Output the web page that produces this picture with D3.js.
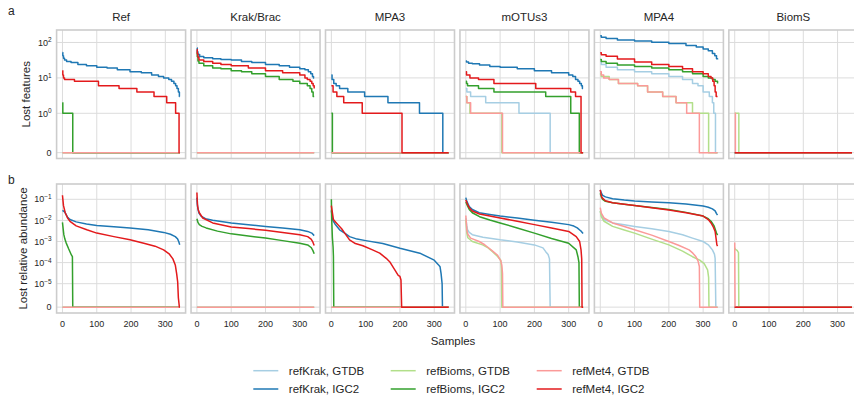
<!DOCTYPE html>
<html>
<head>
<meta charset="utf-8">
<script src="https://cdn.jsdelivr.net/npm/d3@7"></script>
<style>
  body { margin: 0; background: #fff; }
  svg { display: block; }
  text { font-family: "Liberation Sans", Arial, sans-serif; fill: #262626; }
</style>
</head>
<body>
<div id="chart"></div>
<script>
// ---- data ----
const tools = ["Ref", "Krak/Brac", "MPA3", "mOTUs3", "MPA4", "BiomS"];
const seriesNames = ["refKrak, GTDB", "refKrak, IGC2", "refBioms, GTDB", "refBioms, IGC2", "refMet4, GTDB", "refMet4, IGC2"];
const seriesColors = ["#a6cee3", "#1f78b4", "#b2df8a", "#33a02c", "#fb9a99", "#e31a1c"];
const featTicks = [0, 1, 10, 100];
const abundTicks = [0, 1e-5, 1e-4, 1e-3, 1e-2, 1e-1];
const sampleTicks = [0, 100, 200, 300];
const lastSample = 342;
const zeroLine = [[0, 0], [342, 0]];

// lost features, [sample, count] breakpoints; order = seriesNames
const featRef = [
  zeroLine,
  [[0,52],[1,42],[3,36],[6,32],[12,29],[25,27],[45,24],[70,22],[100,20],[130,19],[160,17],[197,15],[230,14],[260,12],[280,11],[295,10],[310,9],[318,8],[325,7],[330,6],[334,5],[338,4],[341,3],[342,3]],
  zeroLine,
  [[0,2],[1,1],[30,0],[342,0]],
  zeroLine,
  [[0,16],[1,12],[3,10],[6,9],[35,8],[105,6],[165,5],[217,4],[267,3],[304,2],[330,1],[340,0],[342,0]]
];
const featKrak = [
  zeroLine,
  [[0,70],[1,55],[3,46],[8,40],[20,37],[46,35],[70,33],[100,32],[130,29],[160,27],[200,24],[240,22],[270,20],[300,18],[315,17],[325,15],[332,13],[337,11],[340,10],[342,10]],
  zeroLine,
  [[0,54],[1,40],[3,30],[6,26],[20,22],[46,19],[70,18],[100,16],[130,15],[160,13],[200,11],[240,9],[280,8],[300,7],[322,6],[330,5],[335,4],[339,3],[342,3]],
  zeroLine,
  [[0,63],[1,48],[3,38],[6,32],[20,29],[46,26],[70,24],[100,22],[150,19],[200,16],[250,14],[300,12],[315,10],[322,9],[330,8],[335,7],[339,6],[342,5]]
];
const featMPA3 = [
  zeroLine,
  [[0,12],[2,9],[7,7],[14,6],[24,5],[48,4],[97,3],[165,2],[257,1],[325,0],[342,0]],
  zeroLine,
  [[0,1],[3,0],[342,0]],
  zeroLine,
  [[0,6],[5,4],[16,3],[36,2],[90,1],[206,0],[342,0]]
];
const featMOTUs3 = [
  [[0,5],[3,4],[14,3],[58,2],[155,1],[246,0],[342,0]],
  [[0,30],[2,28],[8,26],[19,25],[40,23],[70,21],[100,20],[150,18],[200,16],[250,14],[300,12],[312,11],[320,9],[327,8],[332,7],[337,6],[340,5],[342,5]],
  [[0,3],[3,2],[12,1],[105,0],[342,0]],
  [[0,8],[2,7],[5,6],[37,5],[82,4],[233,3],[306,1],[331,0],[342,0]],
  [[0,3],[3,2],[14,1],[107,0],[342,0]],
  [[0,15],[2,12],[12,10],[37,9],[82,7],[204,5],[306,4],[320,3],[336,0],[342,0]]
];
const featMPA4 = [
  [[0,28],[3,24],[17,20],[50,17],[100,15],[150,13],[200,11],[240,9],[269,7],[285,6],[300,4],[318,3],[327,2],[331,1],[336,0],[342,0]],
  [[0,154],[3,140],[17,129],[50,118],[100,111],[150,102],[200,93],[250,82],[280,74],[300,65],[315,58],[327,49],[334,42],[339,35],[342,33]],
  [[0,13],[3,11],[26,9],[53,7],[109,6],[138,4],[182,3],[221,2],[269,1],[316,0],[342,0]],
  [[0,33],[3,29],[17,26],[50,23],[100,21],[150,19],[200,17],[240,15],[269,13],[300,11],[315,10],[327,9],[335,8],[342,7]],
  [[0,15],[3,12],[10,10],[26,9],[53,7],[109,6],[138,4],[182,3],[221,2],[252,1],[289,0],[342,0]],
  [[0,51],[3,45],[17,41],[50,34],[100,28],[150,24],[200,21],[240,18],[269,15],[300,13],[315,11],[323,10],[328,8],[332,6],[335,4],[338,3],[342,3]]
];
const featBiomS = [
  zeroLine,
  zeroLine,
  [[0,1],[12,0],[342,0]],
  zeroLine,
  [[0,1],[2,0],[342,0]],
  zeroLine
];

// lost relative abundance, [sample, fraction]
const abundRef = [
  zeroLine,
  [[0,0.03],[7,0.0245],[15,0.014],[22,0.011],[40,0.0085],[70,0.0068],[100,0.0057],[150,0.005],[197,0.0044],[250,0.0036],[295,0.0027],[315,0.0022],[329,0.0017],[336,0.0013],[339,0.001],[342,7e-4]],
  zeroLine,
  [[0,8e-3],[2,4e-3],[4,2.1e-3],[7,1.3e-3],[11,8.4e-4],[18,4.5e-4],[26,2.3e-4],[29,1.9e-4],[30,0],[342,0]],
  zeroLine,
  [[0,0.155],[3,0.05],[8,0.023],[15,0.013],[22,0.009],[40,0.0055],[71,0.0036],[100,0.0025],[150,0.0017],[197,0.0012],[240,8e-4],[270,6e-4],[295,4e-4],[312,2.5e-4],[322,1.5e-4],[329,7.7e-5],[333,3e-5],[336,1.2e-5],[338,4e-6],[341,0],[342,0]]
];
const abundKrak = [
  zeroLine,
  [[0,0.12],[1,0.06],[3,0.035],[6,0.022],[12,0.016],[25,0.012],[46,0.0102],[100,0.0076],[150,0.0063],[200,0.0052],[250,0.0044],[300,0.0036],[323,0.003],[335,0.0025],[342,0.0019]],
  zeroLine,
  [[0,0.012],[3,0.008],[7,0.0063],[15,0.0052],[27,0.0044],[60,0.0031],[100,0.0023],[150,0.0018],[200,0.00145],[250,0.0011],[300,8.3e-4],[323,6.9e-4],[333,5.2e-4],[338,3.8e-4],[342,2.6e-4]],
  zeroLine,
  [[0,0.21],[1,0.09],[2,0.048],[4,0.032],[7,0.023],[17,0.013],[46,0.0076],[100,0.0049],[150,0.0041],[200,0.0034],[250,0.0027],[300,0.0021],[323,0.0017],[333,0.0013],[338,9.5e-4],[342,6.5e-4]]
];
const abundMPA3 = [
  zeroLine,
  [[0,0.03],[3,0.011],[10,0.007],[24,0.0036],[40,0.0024],[53,0.0017],[75,0.0013],[100,0.0011],[150,8e-4],[200,4.8e-4],[258,2.8e-4],[300,1.3e-4],[312,8e-5],[317,6.3e-5],[320,3e-5],[323,1e-5],[324,0],[342,0]],
  zeroLine,
  [[0,0.1],[1,0.011],[3,1.5e-3],[5,5.5e-4],[6,2e-4],[7,0],[342,0]],
  zeroLine,
  [[0,0.05],[2,0.03],[6,0.011],[12,0.0085],[19,0.0063],[30,0.004],[39,0.0025],[53,0.0012],[70,8e-4],[92,6.3e-4],[120,4e-4],[141,2.8e-4],[160,1.6e-4],[170,1.1e-4],[185,4.5e-5],[195,2.5e-5],[200,2.2e-5],[203,1.5e-5],[205,0],[342,0]]
];
const abundMOTUs3 = [
  [[0,0.013],[3,0.0055],[5,0.0036],[10,0.0027],[19,0.0021],[50,0.0016],[100,0.0012],[150,9.5e-4],[200,6.9e-4],[225,5e-4],[233,3.3e-4],[240,2.4e-4],[244,1.5e-4],[246,0],[342,0]],
  [[0,0.12],[2,0.09],[5,0.069],[10,0.045],[19,0.033],[39,0.023],[70,0.019],[100,0.016],[150,0.013],[200,0.0102],[250,0.0081],[300,0.0063],[315,0.0054],[325,0.0044],[333,0.0034],[337,0.003],[342,0.0024]],
  [[0,0.011],[3,0.0025],[6,0.0015],[19,0.001],[49,6.9e-4],[65,5e-4],[78,3.3e-4],[92,2e-4],[102,1.3e-4],[104,5e-5],[105,0],[342,0]],
  [[0,0.074],[5,0.048],[10,0.033],[19,0.023],[40,0.015],[70,0.0105],[100,0.0076],[150,0.0044],[200,0.0025],[250,0.0014],[300,8.3e-4],[322,4e-4],[327,1.9e-4],[330,1e-4],[331,0],[342,0]],
  [[0,0.017],[3,0.0035],[6,0.0022],[14,0.00145],[39,0.001],[55,7e-4],[68,4.8e-4],[80,3.3e-4],[92,2.3e-4],[102,1.2e-4],[105,7.6e-5],[107,3e-5],[108,0],[342,0]],
  [[0,0.093],[5,0.058],[10,0.04],[19,0.028],[40,0.02],[70,0.016],[100,0.013],[150,0.0091],[200,0.0063],[250,0.0044],[300,0.003],[322,0.0017],[332,0.001],[336,4e-4],[338,1.5e-4],[339,0],[342,0]]
];
const abundMPA4 = [
  [[0,0.0275],[3,0.018],[11,0.011],[36,0.0076],[70,0.0062],[100,0.0052],[150,0.004],[200,0.003],[240,0.0021],[269,0.00145],[300,0.001],[315,7e-4],[327,4e-4],[333,2.5e-4],[335,1.6e-4],[337,0],[342,0]],
  [[0,0.28],[3,0.2],[7,0.155],[15,0.13],[36,0.107],[70,0.092],[100,0.083],[150,0.075],[200,0.069],[250,0.06],[300,0.048],[315,0.042],[327,0.035],[335,0.028],[339,0.021],[342,0.018]],
  [[0,0.0275],[3,0.015],[11,0.0091],[36,0.0052],[70,0.0035],[100,0.0025],[150,0.0013],[200,6.9e-4],[240,3.5e-4],[269,1.9e-4],[290,1.3e-4],[303,9e-5],[313,4.5e-5],[316,2e-5],[317,0],[342,0]],
  [[0,0.195],[3,0.13],[7,0.1],[15,0.08],[36,0.069],[70,0.058],[100,0.051],[150,0.041],[200,0.033],[250,0.024],[300,0.016],[315,0.012],[323,0.0091],[332,0.0055],[339,0.0025],[342,0.002]],
  [[0,0.04],[3,0.022],[11,0.013],[36,0.0076],[70,0.0051],[100,0.0036],[150,0.002],[200,0.001],[230,6.5e-4],[259,4e-4],[270,2.8e-4],[279,1.9e-4],[285,1.2e-4],[289,6.5e-5],[290,0],[342,0]],
  [[0,0.28],[2,0.18],[5,0.12],[15,0.085],[36,0.069],[70,0.058],[100,0.051],[150,0.04],[200,0.031],[250,0.023],[300,0.016],[315,0.011],[323,0.0076],[330,0.0048],[335,0.003],[338,0.0013],[340,7e-4],[342,6e-4]]
];
const abundBiomS = [
  zeroLine,
  zeroLine,
  [[0,5e-4],[2,4.2e-4],[7,3.8e-4],[11,3e-4],[12,0],[342,0]],
  zeroLine,
  [[0,9e-4],[1,0],[342,0]],
  zeroLine
];

const featPanels = [featRef, featKrak, featMPA3, featMOTUs3, featMPA4, featBiomS];
const abundPanels = [abundRef, abundKrak, abundMPA3, abundMOTUs3, abundMPA4, abundBiomS];

// ---- layout ----
const W = 854, H = 397;
const panelLeft = 56.6, panelW = 129, panelStep = 134.45;
const gridColor = "#dcdcdc", edgeColor = "#cccccc";

// matplotlib-style symlog (base 10, linscale 1)
const LINSCALE = 1 / (1 - 1 / 10);
function symlog(thresh) {
  return v => v <= thresh ? (v / thresh) * LINSCALE : LINSCALE + Math.log10(v / thresh);
}

const svg = d3.select("#chart").append("svg")
    .attr("width", W)
    .attr("height", H);

const rows = [
  { panels: featPanels, ticks: featTicks, tf: symlog(1), curve: d3.curveStepAfter,
    top: 30, bottom: 158.5, label: "Lost features", labelX: 30, letter: "a", letterY: 15 },
  { panels: abundPanels, ticks: abundTicks, tf: symlog(1e-5), curve: d3.curveLinear,
    top: 184, bottom: 313, label: "Lost relative abundance", labelX: 26.5, letter: "b", letterY: 184 }
];

// tick label: "0" or 10 with superscript exponent
function powerLabel(sel, v) {
  if (v === 0) { sel.text("0"); return; }
  const e = Math.round(Math.log10(v));
  sel.append("tspan").text("10");
  sel.append("tspan")
      .attr("dy", "-0.5em")
      .attr("font-size", "6.5px")
      .text(String(e).replace("-", "\u2212"));
}

rows.forEach((row, r) => {
  const maxT = d3.max(row.panels, p => d3.max(p, pts => d3.max(pts, d => row.tf(d[1]))));
  const y = d3.scaleLinear()
      .domain([-0.05 * maxT, 1.05 * maxT])
      .range([row.bottom, row.top]);

  row.panels.forEach((panel, c) => {
    const left = panelLeft + c * panelStep;
    const x = d3.scaleLinear()
        .domain([-0.05 * lastSample, 1.05 * lastSample])
        .range([left, left + panelW]);
    const g = svg.append("g");

    // grid
    g.selectAll("line.vgrid")
      .data(sampleTicks)
      .join("line")
        .attr("x1", d => x(d)).attr("x2", d => x(d))
        .attr("y1", row.top).attr("y2", row.bottom)
        .attr("stroke", gridColor).attr("stroke-width", 1);
    g.selectAll("line.hgrid")
      .data(row.ticks)
      .join("line")
        .attr("x1", left).attr("x2", left + panelW)
        .attr("y1", d => y(row.tf(d))).attr("y2", d => y(row.tf(d)))
        .attr("stroke", gridColor).attr("stroke-width", 1);

    // series
    const line = d3.line()
        .x(d => x(d[0]))
        .y(d => y(row.tf(d[1])))
        .curve(row.curve);
    panel.forEach((pts, i) => {
      g.append("path")
          .attr("d", line(pts))
          .attr("fill", "none")
          .attr("stroke", seriesColors[i])
          .attr("stroke-width", 1.5)
          .attr("stroke-linejoin", "round");
    });

    // frame
    g.append("rect")
        .attr("x", left).attr("y", row.top)
        .attr("width", panelW).attr("height", row.bottom - row.top)
        .attr("fill", "none")
        .attr("stroke", edgeColor)
        .attr("stroke-width", 1.6);

    if (r === 0) {
      svg.append("text")
          .attr("x", left + panelW / 2).attr("y", 21)
          .attr("text-anchor", "middle")
          .attr("font-size", "11.5px")
          .text(tools[c]);
    }
    if (c === 0) {
      row.ticks.forEach(t => {
        svg.append("text")
            .attr("x", left - 5)
            .attr("y", y(row.tf(t)) + 3.2)
            .attr("text-anchor", "end")
            .attr("font-size", "9px")
            .attr("fill", "#333")
            .call(powerLabel, t);
      });
    }
    if (r === 1) {
      sampleTicks.forEach(t => {
        svg.append("text")
            .attr("x", x(t)).attr("y", row.bottom + 13.5)
            .attr("text-anchor", "middle")
            .attr("font-size", "9px")
            .attr("fill", "#333")
            .text(t);
      });
    }
  });

  // row label and panel letter
  svg.append("text")
      .attr("transform", `translate(${row.labelX},${(row.top + row.bottom) / 2}) rotate(-90)`)
      .attr("text-anchor", "middle")
      .attr("font-size", "11.5px")
      .text(row.label);
  svg.append("text")
      .attr("x", 8).attr("y", row.letterY)
      .attr("font-size", "12px")
      .text(row.letter);
});

svg.append("text")
    .attr("x", 453).attr("y", 345)
    .attr("text-anchor", "middle")
    .attr("font-size", "11.5px")
    .text("Samples");

// legend, 3 columns x 2 rows (column-major)
const legendCols = [253.3, 390.7, 536.7];
const legendRows = [370.7, 389];
seriesNames.forEach((name, i) => {
  const lx = legendCols[Math.floor(i / 2)];
  const ly = legendRows[i % 2];
  svg.append("line")
      .attr("x1", lx).attr("x2", lx + 25)
      .attr("y1", ly).attr("y2", ly)
      .attr("stroke", seriesColors[i])
      .attr("stroke-width", 1.5);
  svg.append("text")
      .attr("x", lx + 35.5).attr("y", ly + 4.2)
      .attr("font-size", "11.5px")
      .text(name);
});
</script>
</body>
</html>
